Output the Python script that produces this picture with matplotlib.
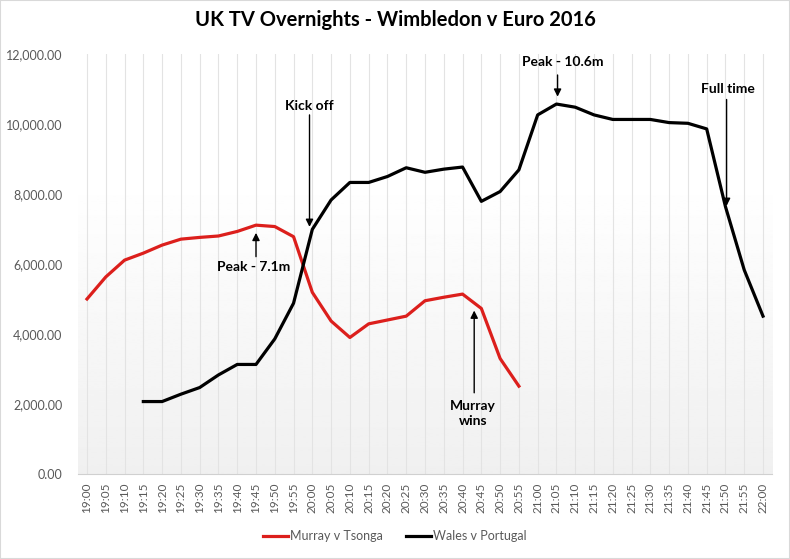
import matplotlib.pyplot as plt
import numpy as np
from matplotlib.patches import Rectangle

# time slots 19:00 .. 22:00, every 5 minutes
times = [f'{h}:{m:02d}' for h in (19, 20, 21) for m in range(0, 60, 5)] + ['22:00']

# Murray v Tsonga, 19:00 - 20:55 (thousands)
murray = [5000, 5630, 6110, 6310, 6540, 6710, 6760, 6800, 6930, 7110, 7070, 6780,
          5190, 4370, 3900, 4290, 4400, 4510, 4950, 5050, 5140, 4730, 3300, 2510]

# Wales v Portugal, 19:15 - 22:00 (thousands)
wales_start = 3
wales = [2070, 2070, 2280, 2470, 2830, 3130, 3130, 3860, 4880,
         6990, 7830, 8330, 8330, 8500, 8750, 8620, 8710, 8770, 7790, 8070, 8690,
         10260, 10570, 10480, 10260, 10130, 10130, 10130, 10040, 10020, 9860,
         7640, 5830, 4510]

red = '#dc1f1c'
grey_txt = '#595959'
font = 'Lato'

fig = plt.figure(figsize=(7.9, 5.59), dpi=100)
ax = fig.add_axes([77.6 / 790, 85 / 559, (772.4 - 77.6) / 790, 420 / 559])

# soft gradient in plot area (white top -> light grey bottom)
grad = np.linspace(1.0, 0.94, 256).reshape(-1, 1)
ax.imshow(grad, cmap='gray', vmin=0, vmax=1, aspect='auto',
          extent=[-0.5, 36.5, 0, 8500], zorder=0)

x = np.arange(len(times))
ax.plot(x[:len(murray)], murray, color=red, lw=2.3, label='Murray v Tsonga', zorder=3)
ax.plot(x[wales_start:wales_start + len(wales)], wales, color='black', lw=2.3,
        label='Wales v Portugal', zorder=3)

ax.set_xlim(-0.5, 36.5)
ax.set_ylim(0, 12000)
ax.set_xticks(x)
ax.set_xticklabels(times, rotation=90, fontsize=8.5, color=grey_txt, family=font)
ax.set_yticks(np.arange(0, 12001, 2000))
ax.set_yticklabels([f'{v:,.2f}' for v in range(0, 12001, 2000)], fontsize=9,
                   color=grey_txt, family=font)
ax.tick_params(length=0, pad=6)
ax.tick_params(axis='y', pad=11)
for xi in x:
    ax.axvline(xi, color='#e3e3e3', lw=0.8, zorder=1)
for s in ['top', 'right', 'left']:
    ax.spines[s].set_visible(False)
ax.spines['bottom'].set_color('#d0d0d0')

# annotations
bold = dict(fontsize=10, fontweight='bold', family=font, ha='center', va='center')
arrow = dict(arrowstyle='-|>', color='black', lw=1, mutation_scale=11, shrinkA=0, shrinkB=0)

ax.text(11.85, 10520, 'Kick off', **bold)
ax.annotate('', xy=(11.85, 7060), xytext=(11.85, 10260), arrowprops=arrow)

ax.text(8.89, 5920, 'Peak - 7.1m', **bold)
ax.annotate('', xy=(9.0, 6890), xytext=(9.0, 6210), arrowprops=arrow)

ax.text(25.36, 11780, 'Peak - 10.6m', **bold)
ax.annotate('', xy=(25.06, 10780), xytext=(25.06, 11400), arrowprops=arrow)

ax.text(34.13, 11010, 'Full time', **bold)
ax.annotate('', xy=(34.06, 7660), xytext=(34.06, 10700), arrowprops=arrow)

ax.text(20.54, 1720, 'Murray\nwins', linespacing=1.3, **bold)
ax.annotate('', xy=(20.62, 4670), xytext=(20.62, 2320), arrowprops=arrow)

fig.text(0.5, 1 - 20 / 559, 'UK TV Overnights - Wimbledon v Euro 2016', ha='center',
         va='center', fontsize=14.5, fontweight='bold', family=font)

leg = fig.legend(loc='center', bbox_to_anchor=(0.5, 1 - 536 / 559), ncol=2, frameon=False,
                 prop={'family': font, 'size': 9}, handlelength=2.0, handletextpad=0.2,
                 columnspacing=1.8)
for t in leg.get_texts():
    t.set_color(grey_txt)

fig.patches.append(Rectangle((0, 0), 1, 1, transform=fig.transFigure, fill=False,
                             edgecolor='#d9d9d9', lw=1.5))

fig.savefig('out.png', dpi=100)
